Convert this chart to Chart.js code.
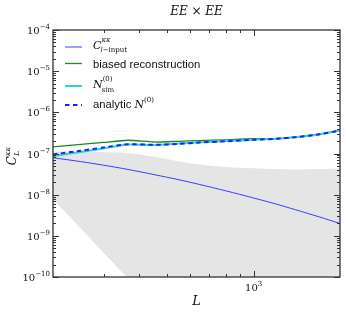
<!DOCTYPE html>
<html>
<head>
<meta charset="utf-8">
<script src="https://cdn.jsdelivr.net/npm/chart.js@4.4.0/dist/chart.umd.min.js"></script>
<style>
  html, body { margin: 0; padding: 0; background: #fff; }
</style>
</head>
<body>
<canvas id="myChart" width="346" height="315"></canvas>
<script>
const Ls = [200, 250, 300, 365, 450, 550, 650, 800, 1000, 1200, 1400, 1700, 2000]
const inputCl = [7.9e-8, 6.35e-8, 5.2e-8, 4.1e-8, 3.07e-8, 2.3e-8, 1.76e-8, 1.24e-8, 8.3e-9, 5.9e-9, 4.3e-9, 2.86e-9, 2.0e-9]
const biased = [1.45e-7, 1.66e-7, 1.86e-7, 2.1e-7, 1.9e-7, 1.98e-7, 2.06e-7, 2.15e-7, 2.28e-7, 2.3e-7, 2.5e-7, 2.95e-7, 3.7e-7]
const nSim = [8.6e-8, 1.09e-7, 1.33e-7, 1.65e-7, 1.6e-7, 1.75e-7, 1.87e-7, 2.0e-7, 2.15e-7, 2.28e-7, 2.5e-7, 2.95e-7, 3.6e-7]
const nAnalytic = [9.5e-8, 1.17e-7, 1.4e-7, 1.68e-7, 1.62e-7, 1.72e-7, 1.85e-7, 1.98e-7, 2.15e-7, 2.27e-7, 2.48e-7, 2.93e-7, 3.6e-7]
const bandLow = [7.7e-9, 1.5e-9, 3.9e-10, 9.3e-11, 2e-11, 5e-12, 1e-12, 1e-12, 1e-12, 1e-12, 1e-12, 1e-12, 1e-12]
const bandHigh = [1.12e-7, 1.1e-7, 1.07e-7, 1.03e-7, 8.3e-8, 6.4e-8, 5.4e-8, 4.7e-8, 4.4e-8, 4.2e-8, 4.1e-8, 4.2e-8, 4.35e-8]
const yTickExps = [-4, -5, -6, -7, -8, -9, -10]
const xTickExps = [3]

const SERIF = '"DejaVu Serif", serif'
const SANS = '"Liberation Sans", Arial, sans-serif'

function pts(values) {
    return Ls.map((L, i) => ({ x: L, y: values[i] }))
}

// runs: [text, size, italic, dy, family]
function runFont(r) {
    return (r[2] ? 'italic ' : '') + r[1] + 'px ' + (r[4] || SERIF)
}
function runsWidth(ctx, runs) {
    let w = 0
    runs.forEach(r => { ctx.font = runFont(r); w += ctx.measureText(r[0]).width })
    return w
}
function drawRuns(ctx, runs, x, y, align) {
    const w = runsWidth(ctx, runs)
    let cx = x
    if (align === 'right') cx = x - w
    if (align === 'center') cx = x - w / 2
    ctx.textAlign = 'left'
    ctx.textBaseline = 'alphabetic'
    runs.forEach(r => {
        ctx.font = runFont(r)
        ctx.fillText(r[0], cx, y + (r[3] || 0))
        cx += ctx.measureText(r[0]).width
    })
}

const decor = {
    id: 'decor',
    beforeDatasetsDraw(chart) {
        const a = chart.chartArea
        chart.ctx.save()
        chart.ctx.beginPath()
        chart.ctx.rect(a.left, a.top, a.right - a.left, a.bottom - a.top)
        chart.ctx.clip()
    },
    afterDatasetsDraw(chart) {
        chart.ctx.restore()
    },
    afterDraw(chart) {
        const ctx = chart.ctx
        const a = chart.chartArea
        const xs = chart.scales.x
        const ys = chart.scales.y
        ctx.save()
        ctx.fillStyle = '#111'
        ctx.strokeStyle = '#333'
        ctx.lineWidth = 1

        // ticks
        ctx.beginPath()
        yTickExps.forEach(e => {
            const py = Math.round(ys.getPixelForValue(Math.pow(10, e))) + 0.5
            ctx.moveTo(a.left, py); ctx.lineTo(a.left + 6, py)
            ctx.moveTo(a.right, py); ctx.lineTo(a.right - 6, py)
            if (e > -10) return
        })
        for (let e = -10; e < -4; e++) {
            for (let m = 2; m <= 9; m++) {
                const py = Math.round(ys.getPixelForValue(m * Math.pow(10, e))) + 0.5
                ctx.moveTo(a.left, py); ctx.lineTo(a.left + 3, py)
                ctx.moveTo(a.right, py); ctx.lineTo(a.right - 3, py)
            }
        }
        xTickExps.forEach(e => {
            const px = Math.round(xs.getPixelForValue(Math.pow(10, e))) + 0.5
            ctx.moveTo(px, a.bottom); ctx.lineTo(px, a.bottom - 6)
            ctx.moveTo(px, a.top); ctx.lineTo(px, a.top + 6)
        })
        ;[300, 400, 500, 600, 700, 800, 900].forEach(v => {
            const px = Math.round(xs.getPixelForValue(v)) + 0.5
            ctx.moveTo(px, a.bottom); ctx.lineTo(px, a.bottom - 3)
            ctx.moveTo(px, a.top); ctx.lineTo(px, a.top + 3)
        })
        ctx.stroke()

        // frame
        ctx.lineWidth = 1.3
        ctx.strokeRect(a.left, a.top, a.right - a.left, a.bottom - a.top)

        // tick labels
        yTickExps.forEach(e => {
            const py = ys.getPixelForValue(Math.pow(10, e))
            drawRuns(ctx, [['10', 10, false, 0], ['\u2212' + (-e), 7, false, -5]], a.left - 3, py + 4, 'right')
        })
        xTickExps.forEach(e => {
            const px = xs.getPixelForValue(Math.pow(10, e))
            drawRuns(ctx, [['10', 10, false, 0], [String(e), 7, false, -5]], px, a.bottom + 14, 'center')
        })

        // title and axis titles
        drawRuns(ctx, [['EE', 12, true, 0], [' \u00d7 ', 12, false, 0], ['EE', 12, true, 0]], (a.left + a.right) / 2, 15, 'center')
        drawRuns(ctx, [['L', 13, true, 0]], (a.left + a.right) / 2, 305, 'center')
        ctx.save()
        ctx.translate(16, 156)
        ctx.rotate(-Math.PI / 2)
        drawRuns(ctx, [['C', 12, true, 0], ['\u03ba\u03ba', 7, true, -6]], 0, 0, 'center')
        ctx.restore()
        ctx.save()
        ctx.translate(16, 156)
        ctx.rotate(-Math.PI / 2)
        ctx.font = 'italic 12px ' + SERIF
        const cw = ctx.measureText('C').width
        ctx.font = 'italic 7px ' + SERIF
        const kw = ctx.measureText('\u03ba\u03ba').width
        drawRuns(ctx, [['L', 8, true, 0]], -(cw + kw) / 2 + cw, 3, 'left')
        ctx.restore()

        // legend
        const lx0 = 65, lx1 = 82, tx = 93
        const rows = [
            { y: 47, color: 'rgb(60,60,255)', w: 1, dash: [] },
            { y: 63.5, color: '#1a8a1a', w: 1.3, dash: [] },
            { y: 86, color: '#2cd3d3', w: 2, dash: [] },
            { y: 105, color: '#1f1fff', w: 2, dash: [4.5, 3.5] }
        ]
        rows.forEach(r => {
            ctx.beginPath()
            ctx.strokeStyle = r.color
            ctx.lineWidth = r.w
            ctx.setLineDash(r.dash)
            ctx.moveTo(lx0, r.y); ctx.lineTo(lx1, r.y)
            ctx.stroke()
        })
        ctx.setLineDash([])
        ctx.fillStyle = '#111'
        // C^{kk}_{l-input}
        ctx.font = 'italic 11px ' + SERIF
        const cW = ctx.measureText('C').width
        drawRuns(ctx, [['C', 11, true, 0]], tx, 49, 'left')
        drawRuns(ctx, [['\u03ba\u03ba', 7, true, 0]], tx + cW, 42, 'left')
        drawRuns(ctx, [['l', 7, true, 0], ['\u2212input', 7, false, 0]], tx + cW - 1, 52, 'left')
        // biased reconstruction
        drawRuns(ctx, [['biased reconstruction', 11.3, false, 0, SANS]], tx, 67.5, 'left')
        // N^{(0)}_{sim}
        ctx.font = 'italic 11px ' + SERIF
        const nW = ctx.measureText('N').width
        drawRuns(ctx, [['N', 11, true, 0]], tx, 88, 'left')
        drawRuns(ctx, [['(0)', 7, false, 0]], tx + nW, 81, 'left')
        drawRuns(ctx, [['sim', 7, false, 0]], tx + nW - 1, 92, 'left')
        // analytic N^{(0)}
        drawRuns(ctx, [['analytic ', 11.3, false, 0, SANS], ['N', 11, true, 0], ['(0)', 7, false, -6]], tx, 108, 'left')

        ctx.restore()
    }
}

const ctx = document.getElementById('myChart').getContext('2d')
const myChart = new Chart(ctx, {
    type: 'line',
    data: {
        datasets: [
            {
                label: 'band low',
                data: pts(bandLow),
                borderWidth: 0,
                borderColor: 'rgba(0,0,0,0)',
                pointRadius: 0,
                fill: false,
                order: 10
            },
            {
                label: 'band high',
                data: pts(bandHigh),
                borderWidth: 0,
                borderColor: 'rgba(0,0,0,0)',
                backgroundColor: 'rgb(229,229,229)',
                pointRadius: 0,
                fill: '-1',
                tension: 0.3,
                order: 9
            },
            {
                label: 'C input',
                data: pts(inputCl),
                borderColor: 'rgb(60,60,255)',
                borderWidth: 1,
                pointRadius: 0,
                fill: false,
                tension: 0.3,
                order: 4
            },
            {
                label: 'biased reconstruction',
                data: pts(biased),
                borderColor: '#1a8a1a',
                borderWidth: 1.3,
                pointRadius: 0,
                fill: false,
                tension: 0.2,
                order: 3
            },
            {
                label: 'N sim',
                data: pts(nSim),
                borderColor: '#2cd3d3',
                borderWidth: 2,
                pointRadius: 0,
                fill: false,
                tension: 0.2,
                order: 2
            },
            {
                label: 'analytic N',
                data: pts(nAnalytic),
                borderColor: '#1f1fff',
                borderWidth: 2,
                borderDash: [4.5, 3.5],
                pointRadius: 0,
                fill: false,
                tension: 0.2,
                order: 1
            }
        ]
    },
    options: {
        responsive: false,
        animation: false,
        layout: { padding: { left: 53, top: 30, right: 6, bottom: 38 } },
        plugins: {
            legend: { display: false },
            title: { display: false },
            tooltip: { enabled: false }
        },
        scales: {
            x: { type: 'logarithmic', min: 200, max: 2000, display: false },
            y: { type: 'logarithmic', min: 1e-10, max: 1e-4, display: false }
        }
    },
    plugins: [decor]
})
</script>
</body>
</html>
